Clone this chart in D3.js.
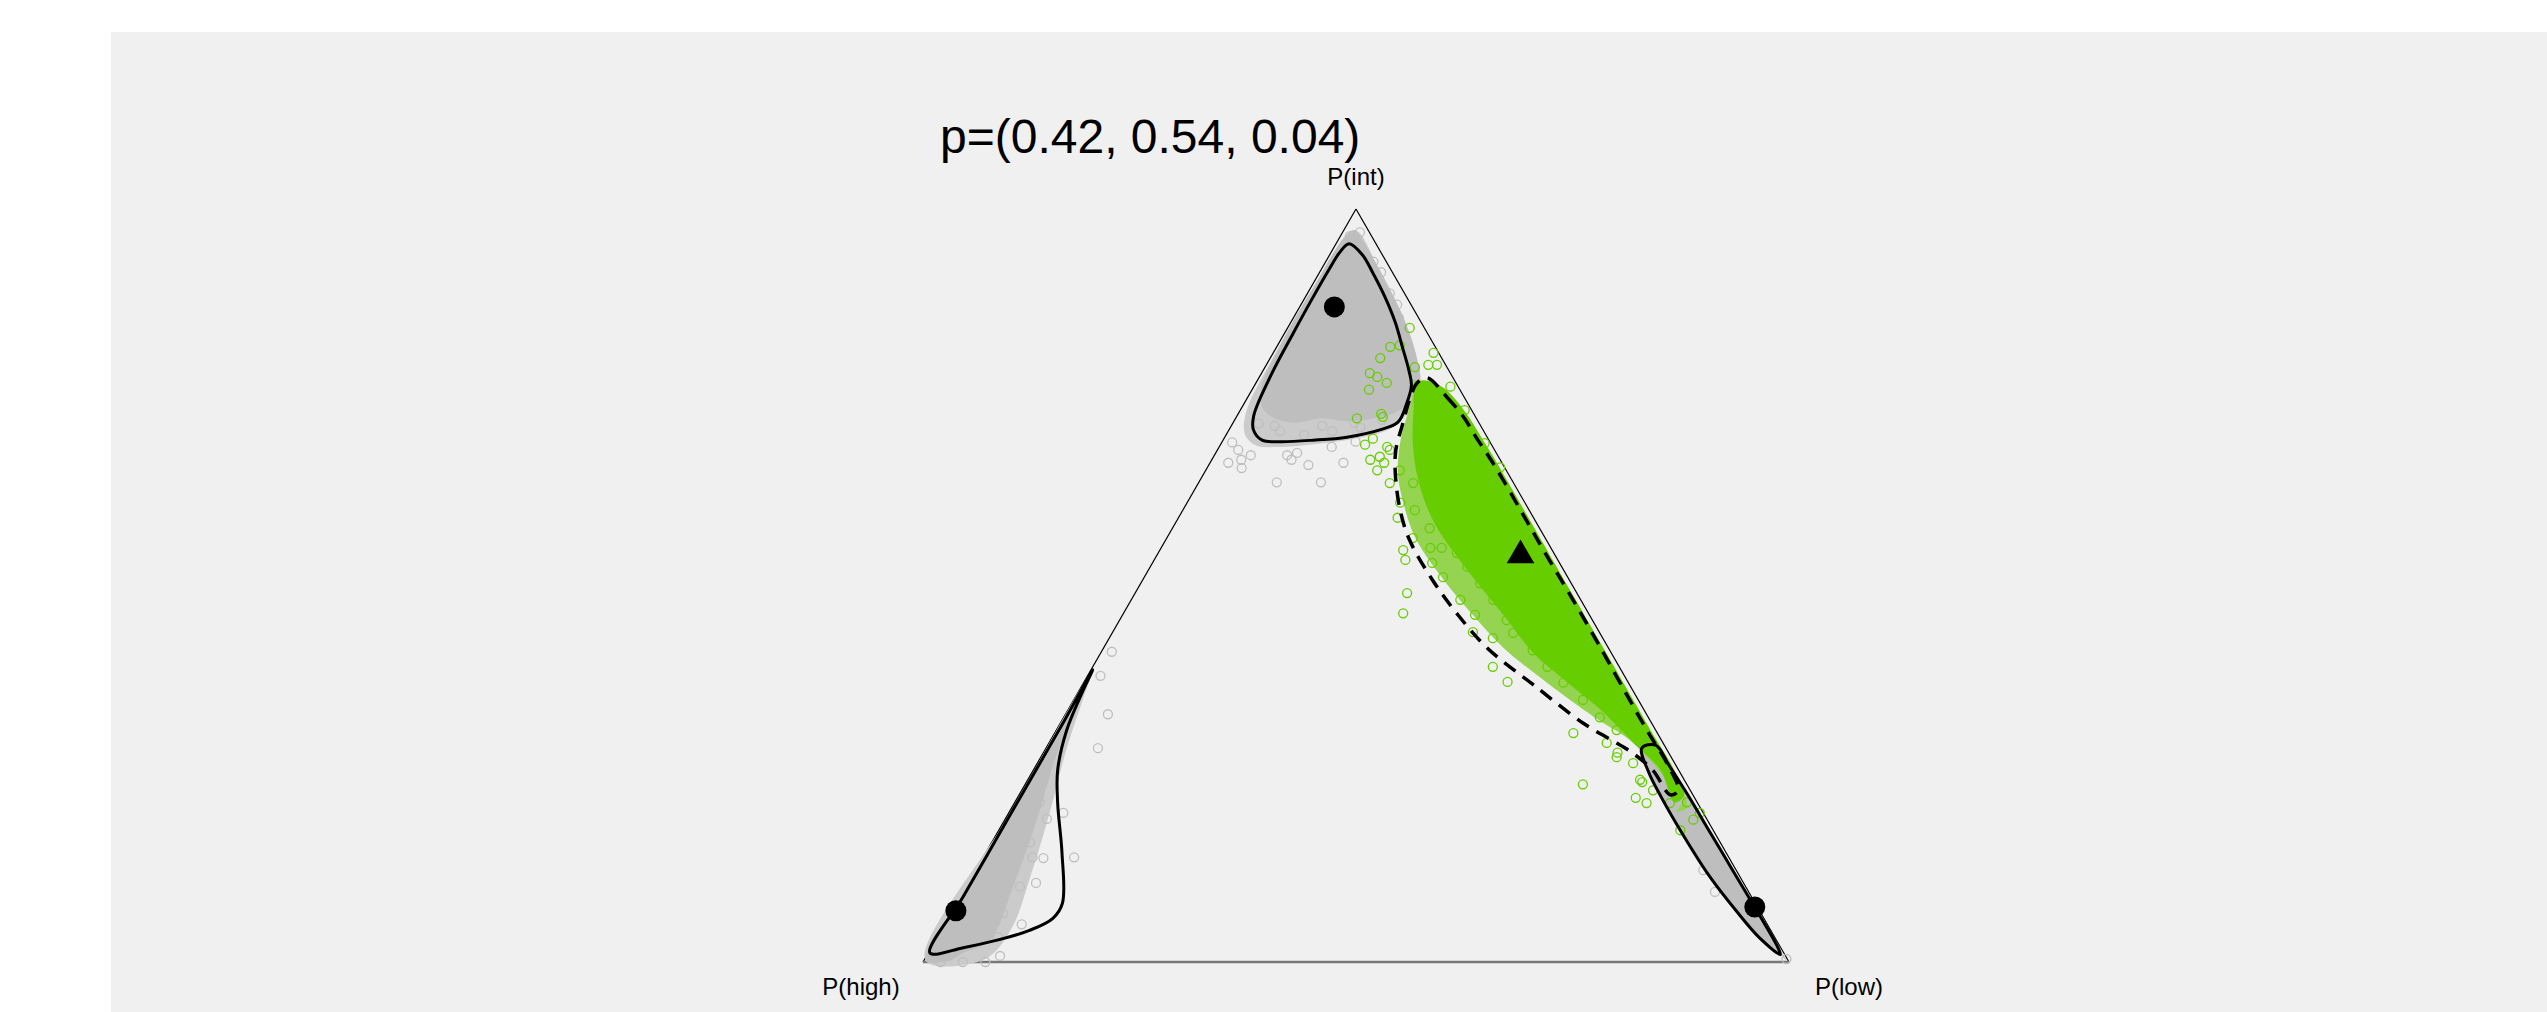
<!DOCTYPE html>
<html>
<head>
<meta charset="utf-8">
<script src="https://cdn.jsdelivr.net/npm/d3@7"></script>
<style>
  html, body { margin: 0; padding: 0; background: #fff; }
  svg { display: block; }
  text { font-family: "Liberation Sans", Arial, sans-serif; fill: #000; }
</style>
</head>
<body>
<svg id="chart" width="2547" height="1012"></svg>
<script>
// every point is [P(low), P(int)], P(high) = 1 - low - int
const vertexLabels = ["P(high)", "P(int)", "P(low)"];
const vertices = [[0, 0], [0, 1], [1, 0]];
const pTrue = [0.42, 0.54, 0.04];

// solid contours around the three grey clusters
const contourTop = [[0.015,0.954],[0.038,0.939],[0.062,0.915],[0.092,0.883],[0.121,0.849],[0.145,0.817],[0.168,0.786],[0.181,0.766],[0.188,0.740],[0.190,0.717],[0.175,0.707],[0.141,0.697],[0.104,0.693],[0.067,0.691],[0.045,0.693],[0.028,0.707],[0.019,0.726],[0.012,0.782],[0.010,0.835],[0.009,0.879],[0.009,0.919],[0.010,0.942]];
const contourLeft = [[0.002,0.388],[0.003,0.321],[0.003,0.246],[0.003,0.166],[0.003,0.086],[0.002,0.012],[0.037,0.019],[0.071,0.029],[0.102,0.042],[0.121,0.058],[0.122,0.078],[0.088,0.145],[0.050,0.211],[0.028,0.255],[0.012,0.308],[0.005,0.357]];
const contourRight = [[0.688,0.284],[0.712,0.252],[0.742,0.220],[0.790,0.172],[0.850,0.115],[0.905,0.068],[0.950,0.032],[0.985,0.010],[0.975,0.022],[0.935,0.062],[0.880,0.116],[0.825,0.170],[0.770,0.224],[0.730,0.262],[0.702,0.288]];

// dashed contour around the green sample
const contourGreen = [[0.194,0.776],[0.230,0.750],[0.262,0.724],[0.290,0.697],[0.318,0.671],[0.350,0.640],[0.386,0.604],[0.416,0.574],[0.447,0.543],[0.504,0.487],[0.577,0.414],[0.642,0.348],[0.689,0.301],[0.729,0.262],[0.758,0.228],[0.752,0.222],[0.715,0.255],[0.678,0.279],[0.647,0.295],[0.604,0.317],[0.521,0.368],[0.443,0.417],[0.386,0.462],[0.335,0.507],[0.282,0.560],[0.251,0.600],[0.222,0.647],[0.206,0.680],[0.197,0.713],[0.188,0.749],[0.186,0.769]];

// areas where the points overlap into a solid cloud (halo = partly covered)
const greyHalo = [
  [[0.012,0.972],[0.062,0.925],[0.125,0.858],[0.172,0.798],[0.192,0.765],[0.195,0.728],[0.185,0.708],[0.150,0.695],[0.110,0.688],[0.070,0.684],[0.042,0.686],[0.022,0.700],[0.008,0.730],[0.003,0.800],[0.003,0.900]],
  [[0.002,0.388],[0.010,0.350],[0.025,0.280],[0.048,0.195],[0.068,0.110],[0.080,0.045],[0.070,0.004],[0.002,0.002],[0.002,0.200]]
];
const greyDense = [
  [[0.012,0.972],[0.035,0.952],[0.062,0.925],[0.095,0.890],[0.125,0.858],[0.150,0.828],[0.172,0.798],[0.186,0.775],[0.186,0.735],[0.160,0.722],[0.130,0.718],[0.100,0.722],[0.070,0.716],[0.045,0.722],[0.025,0.735],[0.010,0.760],[0.003,0.830],[0.003,0.900],[0.004,0.950]],
  [[0.002,0.388],[0.005,0.357],[0.016,0.278],[0.037,0.189],[0.054,0.100],[0.063,0.029],[0.040,0.012],[0.030,0.002],[0.002,0.002],[0.002,0.100],[0.002,0.250]],
  [[0.688,0.284],[0.712,0.252],[0.742,0.220],[0.790,0.172],[0.850,0.115],[0.905,0.068],[0.950,0.032],[0.985,0.010],[0.996,0.002],[0.975,0.022],[0.935,0.062],[0.880,0.116],[0.825,0.170],[0.770,0.224],[0.730,0.262],[0.702,0.288]]
];
const greenHalo = [[0.180,0.772],[0.215,0.765],[0.240,0.748],[0.270,0.722],[0.298,0.695],[0.325,0.669],[0.356,0.638],[0.392,0.602],[0.422,0.572],[0.453,0.541],[0.509,0.485],[0.582,0.412],[0.648,0.346],[0.695,0.299],[0.735,0.260],[0.768,0.222],[0.780,0.205],[0.770,0.200],[0.770,0.215],[0.728,0.250],[0.690,0.280],[0.660,0.300],[0.622,0.320],[0.540,0.368],[0.462,0.417],[0.403,0.462],[0.348,0.507],[0.290,0.560],[0.257,0.600],[0.225,0.647],[0.206,0.690],[0.195,0.730],[0.185,0.765]];
const greenDense = [[0.190,0.772],[0.215,0.765],[0.240,0.748],[0.270,0.722],[0.298,0.695],[0.325,0.669],[0.356,0.638],[0.392,0.602],[0.422,0.572],[0.453,0.541],[0.509,0.485],[0.582,0.412],[0.648,0.346],[0.695,0.299],[0.735,0.260],[0.768,0.222],[0.762,0.212],[0.724,0.255],[0.675,0.291],[0.615,0.335],[0.559,0.371],[0.500,0.410],[0.448,0.454],[0.395,0.498],[0.348,0.538],[0.312,0.570],[0.280,0.604],[0.249,0.644],[0.219,0.693],[0.200,0.733],[0.188,0.760]];

// single points that stand apart from the clouds
const greyPoints = [[0.021,0.663],[0.040,0.656],[0.024,0.680],[0.084,0.673],[0.094,0.676],[0.092,0.667],[0.115,0.660],[0.130,0.684],[0.090,0.637],[0.141,0.637],[0.154,0.691],[0.154,0.663],[0.012,0.690],[0.034,0.667],[0.042,0.673],[0.055,0.930],[0.071,0.916],[0.095,0.888],[0.111,0.873],[0.122,0.855],[0.139,0.833],[0.020,0.969],[0.011,0.964],
  [0.030,0.715],[0.060,0.705],[0.090,0.700],[0.120,0.705],[0.150,0.710],[0.170,0.720],[0.050,0.712],[0.105,0.712],[0.140,0.716],
  [0.012,0.412],[0.015,0.380],[0.049,0.329],[0.060,0.284],[0.063,0.198],[0.048,0.190],[0.105,0.139],[0.057,0.139],[0.070,0.138],[0.078,0.105],[0.089,0.050],[0.085,0.008],[0.070,0.033],[0.044,0.159],[0.062,0.100],[0.041,0.126],[0.041,0.113],[0.060,0.065],[0.029,0.212],[0.020,0.000],[0.046,0.000],[0.072,0.000],
  [0.840,0.122],[0.868,0.093],[0.995,0.004]];
const greenPoints = [[0.141,0.842],[0.185,0.809],[0.197,0.793],[0.187,0.793],[0.173,0.790],[0.127,0.802],[0.125,0.782],[0.131,0.817],[0.141,0.819],[0.227,0.764],[0.140,0.722],[0.167,0.687],[0.183,0.667],[0.198,0.653],[0.192,0.671],[0.194,0.684],[0.221,0.636],[0.246,0.610],[0.253,0.590],[0.268,0.600],[0.281,0.547],[0.290,0.534],[0.284,0.563],[0.314,0.490],[0.323,0.463],[0.311,0.550],[0.324,0.550],[0.323,0.530],[0.345,0.511],[0.380,0.481],[0.407,0.461],[0.416,0.438],[0.443,0.430],[0.462,0.392],[0.489,0.372],[0.463,0.437],[0.599,0.304],[0.644,0.236],[0.644,0.291],[0.663,0.278],[0.688,0.264],[0.707,0.242],[0.304,0.689],[0.338,0.657],[0.259,0.733],
  [0.714,0.218],[0.730,0.211],[0.665,0.272],[0.711,0.239],[0.729,0.228],[0.787,0.175],[0.795,0.189],[0.757,0.211],[0.776,0.212],[0.798,0.198],
  [0.151,0.769],[0.169,0.724],[0.199,0.680],[0.297,0.576],[0.248,0.636],[0.243,0.663],[0.224,0.653],[0.136,0.777],[0.135,0.760],[0.165,0.728],[0.172,0.695],[0.201,0.663],
  [0.345,0.543],[0.366,0.525],[0.392,0.503],[0.418,0.481],[0.447,0.454],[0.497,0.414],[0.525,0.392],[0.554,0.371],[0.588,0.348],[0.619,0.325],[0.647,0.308]];

// modes of the three grey clusters
const modePoints = [[0.040,0.870],[0.004,0.068],[0.924,0.073]];

const svg = d3.select("#chart");
const W = 2547, H = 1012;

const baseX = d3.scaleLinear().domain([0, 1]).range([923, 1789]);
const heightY = d3.scaleLinear().domain([0, 1]).range([962, 209]);
const px = (d) => [baseX(d[0] + d[1] / 2), heightY(d[1])];

const closedCurve = d3.line().x((d) => px(d)[0]).y((d) => px(d)[1]).curve(d3.curveCatmullRomClosed.alpha(0.5));

svg.append("rect").attr("x", 111).attr("y", 32).attr("width", W - 111).attr("height", H - 32).attr("fill", "#f0f0f0");

// triangle frame
const [vHigh, vInt, vLow] = vertices.map(px);
svg.append("line").attr("x1", vHigh[0]).attr("y1", vHigh[1]).attr("x2", vInt[0]).attr("y2", vInt[1])
  .attr("stroke", "#000").attr("stroke-width", 1.2);
svg.append("line").attr("x1", vInt[0]).attr("y1", vInt[1]).attr("x2", vLow[0]).attr("y2", vLow[1])
  .attr("stroke", "#000").attr("stroke-width", 1.2);
svg.append("line").attr("x1", vHigh[0]).attr("y1", vHigh[1]).attr("x2", vLow[0]).attr("y2", vLow[1])
  .attr("stroke", "#777").attr("stroke-width", 2.5);

// grey sample
svg.append("g").selectAll("path").data(greyHalo).join("path")
  .attr("d", closedCurve).attr("fill", "#cbcbcb");
svg.append("g").selectAll("path").data(greyDense).join("path")
  .attr("d", closedCurve).attr("fill", "#bebebe");
svg.append("g").selectAll("circle").data(greyPoints).join("circle")
  .attr("cx", (d) => px(d)[0]).attr("cy", (d) => px(d)[1]).attr("r", 4.5)
  .attr("fill", "none").attr("stroke", "#bebebe").attr("stroke-width", 1.3);

// green sample
svg.append("path").datum(greenHalo).attr("d", closedCurve).attr("fill", "#94d450");
svg.append("path").datum(greenDense).attr("d", closedCurve).attr("fill", "#66cd00");
svg.append("g").selectAll("circle").data(greenPoints).join("circle")
  .attr("cx", (d) => px(d)[0]).attr("cy", (d) => px(d)[1]).attr("r", 4.5)
  .attr("fill", "none").attr("stroke", "#66cd00").attr("stroke-width", 1.3);

// contours
svg.append("g").selectAll("path").data([contourTop, contourLeft, contourRight]).join("path")
  .attr("d", closedCurve).attr("fill", "none").attr("stroke", "#000").attr("stroke-width", 3)
  .attr("stroke-linejoin", "round");
svg.append("path").datum(contourGreen).attr("d", closedCurve)
  .attr("fill", "none").attr("stroke", "#000").attr("stroke-width", 3.5).attr("stroke-dasharray", "14,9");

// markers
svg.append("g").selectAll("circle").data(modePoints).join("circle")
  .attr("cx", (d) => px(d)[0]).attr("cy", (d) => px(d)[1]).attr("r", 10.5).attr("fill", "#000");
const pPos = px([pTrue[0], pTrue[1]]);
svg.append("path").attr("d", d3.symbol(d3.symbolTriangle, 330)())
  .attr("transform", `translate(${pPos[0]},${pPos[1]})`).attr("fill", "#000");

// labels
const labelOffsets = [[-62, 33], [0, -24], [60, 33]];
svg.append("g").selectAll("text").data(vertexLabels).join("text")
  .attr("x", (d, i) => px(vertices[i])[0] + labelOffsets[i][0])
  .attr("y", (d, i) => px(vertices[i])[1] + labelOffsets[i][1])
  .attr("text-anchor", "middle").attr("font-size", 24).text((d) => d);

svg.append("text").attr("x", 940).attr("y", 153).attr("font-size", 48)
  .text(`p=(${pTrue.map((v) => v.toFixed(2)).join(", ")})`);
</script>
</body>
</html>
